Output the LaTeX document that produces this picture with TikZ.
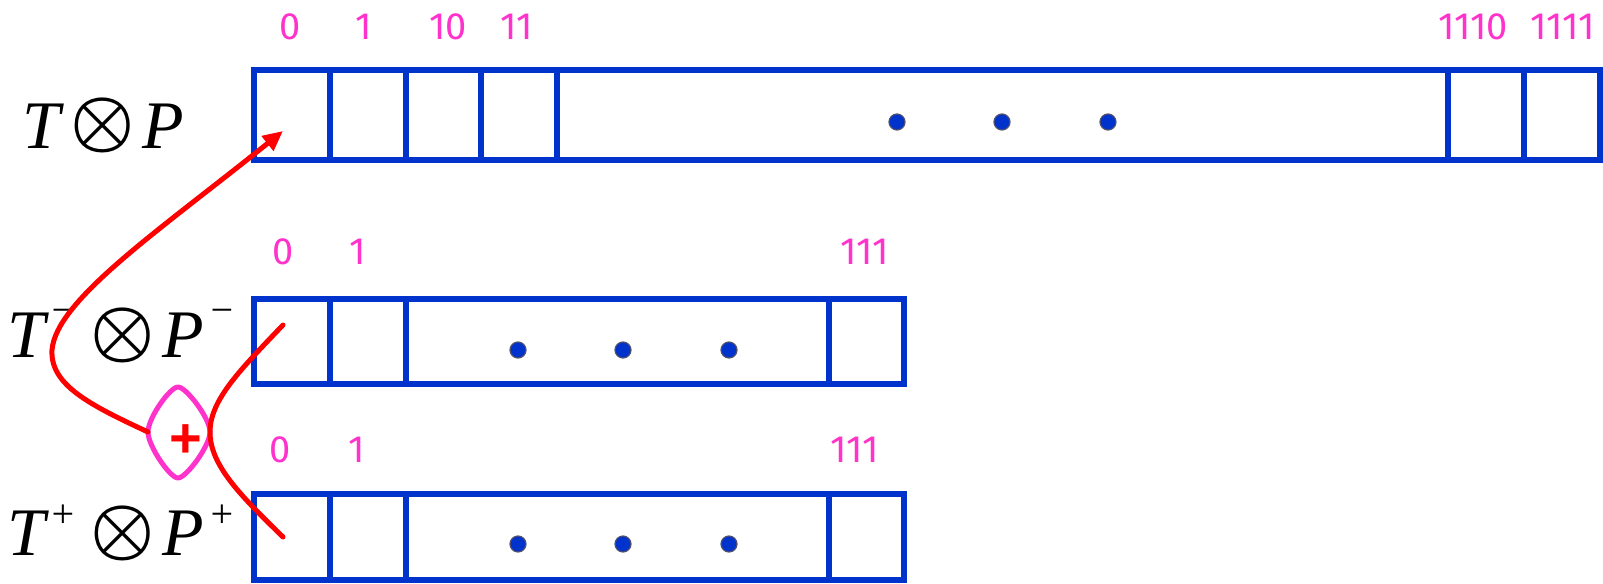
\documentclass[tikz,border=0pt]{standalone}
\usepackage{graphicx}
\usepackage{fontspec}
\usetikzlibrary{arrows.meta}
\newfontfamily\labelfont[Numbers=Proportional]{Fira Sans}
\newfontfamily\prodfont{Liberation Serif}
\newfontfamily\plusfont{Liberation Sans}
\definecolor{cellblue}{RGB}{0,51,204}
\definecolor{bitpink}{RGB}{255,51,204}
\definecolor{dotgray}{RGB}{80,80,110}
\newcommand{\tsup}[2]{\raisebox{#1}{\fontsize{20}{20}\selectfont #2}}
\newcommand{\otim}{\raisebox{2pt}{\scalebox{3.6}{\fontsize{10}{12}\selectfont\boldmath$\otimes$}}}

\begin{document}
\begin{tikzpicture}[x=0.5pt, y=-0.5pt,
    cellrow/.style={draw=cellblue, line width=3pt},
    bitlabel/.style={text=bitpink, font=\labelfont\fontsize{19}{19}\selectfont, inner sep=0},
    prodlabel/.style={anchor=base west, inner sep=0, font=\prodfont\itshape\fontsize{34}{36}\selectfont},
    dotmark/.style={fill=cellblue, draw=dotgray, line width=0.6pt},
    redlink/.style={red, line width=2.5pt, line cap=round}]
    \useasboundingbox (0,0) rectangle (1603,584);

    % T x P
    \node[prodlabel] (tp) at (22,148) {T\hspace{5pt}\otim\hspace{4pt}P};
    \draw[cellrow] (254,70) rectangle (1600,160);
    \foreach \x in {330,406,481,557,1448,1524}
        \draw[cellrow] (\x,70) -- (\x,160);
    \foreach \x/\b/\n in {290/0/a, 364/1/b, 448/10/c, 517/11/d, 1473/1110/e, 1563/1111/f}
        \node[bitlabel] (tp\n) at (\x,27) {\b};
    \foreach \x in {897,1002,1108}
        \draw[dotmark] (\x,122) circle[radius=4pt];

    % T- x P-
    \node[prodlabel] (tm) at (7,357) {T\hspace{2pt}\tsup{17pt}{−}\hspace{7pt}\otim\hspace{4pt}P\hspace{2pt}\tsup{17pt}{−}};
    \draw[cellrow] (254,299) rectangle (904,384);
    \foreach \x in {330,406,829}
        \draw[cellrow] (\x,299) -- (\x,384);
    \foreach \x/\b/\n in {283/0/a, 358/1/b, 865/111/c}
        \node[bitlabel] (tm\n) at (\x,252) {\b};
    \foreach \x in {518,623,729}
        \draw[dotmark] (\x,350) circle[radius=4pt];

    % T+ x P+
    \node[prodlabel] (tpl) at (7,555) {T\hspace{2pt}\tsup{14pt}{+}\hspace{7pt}\otim\hspace{4pt}P\hspace{2pt}\tsup{14pt}{+}};
    \draw[cellrow] (254,494) rectangle (904,580);
    \foreach \x in {330,406,829}
        \draw[cellrow] (\x,494) -- (\x,580);
    \foreach \x/\b/\n in {280/0/a, 357/1/b, 855/111/c}
        \node[bitlabel] (tpl\n) at (\x,450) {\b};
    \foreach \x in {518,623,729}
        \draw[dotmark] (\x,544) circle[radius=4pt];

    % the sum
    \coordinate (dtop) at (178,387);
    \coordinate (dright) at (210,432);
    \coordinate (dbot) at (178,478);
    \coordinate (dleft) at (148,432);
    \draw[bitpink, line width=2.5pt, line join=round]
        (dtop) .. controls (186,387) and (210,418) .. (dright)
        .. controls (210,446) and (186,478) .. (dbot)
        .. controls (170,478) and (148,446) .. (dleft)
        .. controls (148,418) and (170,387) .. (dtop) -- cycle;
    \node[text=red, font=\plusfont\bfseries\fontsize{28}{28}\selectfont, inner sep=0, anchor=base] (plus) at (186,457) {+};

    \coordinate (tpin) at (283,131);
    \coordinate (tmout) at (283,325);
    \coordinate (tplout) at (283,537);
    \draw[redlink, -{Triangle[length=10pt,width=9pt]}] (dleft)
        .. controls (90,405) and (50,385) .. (52,350)
        .. controls (56,300) and (160,230) .. (tpin);
    \draw[redlink] (tmout) .. controls (240,370) and (210,400) .. (dright)
        .. controls (210,465) and (240,495) .. (tplout);
\end{tikzpicture}
\end{document}
